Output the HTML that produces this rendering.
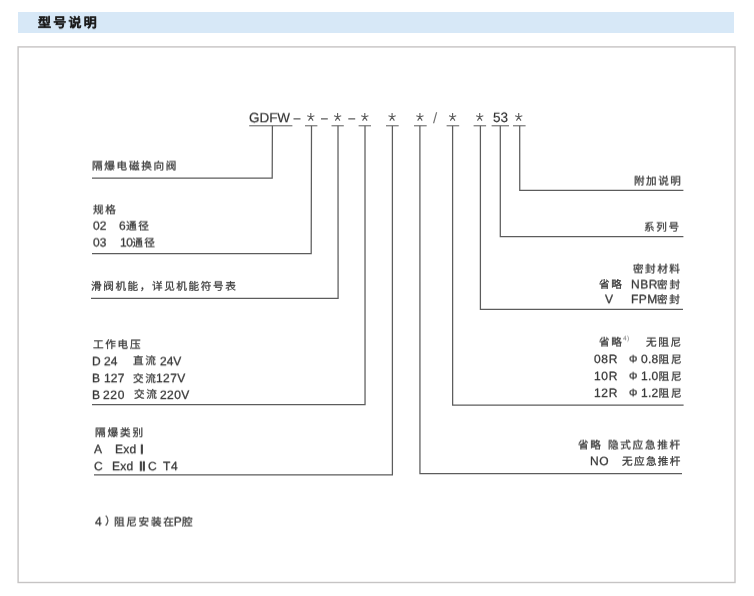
<!DOCTYPE html>
<html lang="zh-CN"><head><meta charset="utf-8"><title>型号说明</title>
<style>
html,body{margin:0;padding:0;background:#fff;}
body{width:754px;height:596px;position:relative;overflow:hidden;font-family:"Liberation Sans",sans-serif;text-rendering:geometricPrecision;}
.hdr{position:absolute;left:18px;top:12px;width:716px;height:20.5px;background:#d7e8f7;}
svg{position:absolute;left:0;top:0;}
.L{position:absolute;left:0;top:0;width:754px;height:596px;will-change:transform;}
.ttl{position:absolute;left:37.9px;top:14px;font-size:13px;line-height:17px;font-weight:bold;letter-spacing:2.25px;color:#1a1a1a;white-space:pre;-webkit-text-stroke:0.2px #1a1a1a;will-change:transform;transform:translateY(.15px) rotate(.01deg);}
.t{will-change:transform;position:absolute;font-size:10.6px;line-height:14px;letter-spacing:1.7px;color:#363636;white-space:pre;-webkit-text-stroke:0.25px #363636;}
.t .l{font-size:12px;letter-spacing:0.7px;-webkit-text-stroke:0.28px #363636;}
.t.code{font-size:13.5px;line-height:16px;color:#2e2e2e;-webkit-text-stroke:0;}
.t.code .l{font-size:13.5px;letter-spacing:-0.05px;-webkit-text-stroke:0.15px #2e2e2e;}
.t .rn{font-size:13px;font-weight:normal;letter-spacing:-0.6px;-webkit-text-stroke:0.75px #333;color:#333;}
.t.phi .l{font-size:10.5px;}
.t.slash{color:#6e6e6e;}
.t.code.slash .l{font-size:15px;-webkit-text-stroke:0;}
.t.sup{font-size:6.5px;line-height:7px;color:#777;-webkit-text-stroke:0;}
.t.sup .l{font-size:6.5px;letter-spacing:0.3px;-webkit-text-stroke:0;}
</style></head><body>
<div class="hdr"></div>
<svg width="754" height="596" viewBox="0 0 754 596" fill="none" stroke="#5c5c5c" stroke-width="1.25">
<rect x="18.1" y="46.9" width="716.9" height="535.6" stroke="#c6c4c4" stroke-width="1.4"/>
<path stroke-width="1.0" d="M249.2 125.8H292.4M305 125.8H317.4M331.5 125.8H343.8M358.6 125.8H371M386 125.8H398.7M414 125.8H426.7M446.6 125.8H459.2M473.6 125.8H486.1M491.6 125.8H509M513 125.8H525.6"/>
<path d="M272.4 125.8L272.2 178.2H92"/>
<path d="M311.5 125.8L311.2 253.6H92"/>
<path d="M338.0 125.8L338.1 298.4H91"/>
<path d="M365.0 125.8L365.05 404.7H92"/>
<path d="M392.4 125.8L392.4 474.8H94"/>
<path d="M519.7 125.8L519.75 190.3H683.4"/>
<path d="M500.3 125.8L500.3 236.5H683.4"/>
<path d="M480.4 125.8L480.4 309.4H683"/>
<path d="M452.6 125.8L452.65 405.1H683.6"/>
<path d="M419.9 125.8L419.95 473.7H682"/>
<path d="M293.5 118.9H300.5M321 118.9H327.8M348.3 118.9H355.2" stroke-width="1.3"/>
<path d="M310.8 117.0l0 -4.0M310.8 117.0l3.6 -1.15M310.8 117.0l2.25 3.6M310.8 117.0l-2.25 3.6M310.8 117.0l-3.6 -1.15M337.6 117.0l0 -4.0M337.6 117.0l3.6 -1.15M337.6 117.0l2.25 3.6M337.6 117.0l-2.25 3.6M337.6 117.0l-3.6 -1.15M364.8 117.0l0 -4.0M364.8 117.0l3.6 -1.15M364.8 117.0l2.25 3.6M364.8 117.0l-2.25 3.6M364.8 117.0l-3.6 -1.15M392.1 117.0l0 -4.0M392.1 117.0l3.6 -1.15M392.1 117.0l2.25 3.6M392.1 117.0l-2.25 3.6M392.1 117.0l-3.6 -1.15M419.9 117.0l0 -4.0M419.9 117.0l3.6 -1.15M419.9 117.0l2.25 3.6M419.9 117.0l-2.25 3.6M419.9 117.0l-3.6 -1.15M452.6 117.0l0 -4.0M452.6 117.0l3.6 -1.15M452.6 117.0l2.25 3.6M452.6 117.0l-2.25 3.6M452.6 117.0l-3.6 -1.15M479.7 117.0l0 -4.0M479.7 117.0l3.6 -1.15M479.7 117.0l2.25 3.6M479.7 117.0l-2.25 3.6M479.7 117.0l-3.6 -1.15M518.7 117.0l0 -4.0M518.7 117.0l3.6 -1.15M518.7 117.0l2.25 3.6M518.7 117.0l-2.25 3.6M518.7 117.0l-3.6 -1.15" stroke-width="1.1"/>
</svg>
<div class="L">
<div class="ttl">型号说明</div>
<div class="t code" style="left:249.0px;top:110px;transform:translateY(0.30px) rotate(.01deg);"><span class="l">GDFW</span></div>
<div class="t code" style="left:492.5px;top:109px;transform:translateY(0.90px) rotate(.01deg);"><span class="l">53</span></div>
<div class="t code slash" style="left:432.7px;top:111px;transform:translateY(0.00px) rotate(.01deg);"><span class="l">/</span></div>
<div class="t " style="left:92.0px;top:159px;transform:translateY(0.60px) rotate(.01deg);">隔爆电磁换向阀</div>
<div class="t " style="left:92.5px;top:203px;transform:translateY(0.40px) rotate(.01deg);">规格</div>
<div class="t " style="left:92.8px;top:218px;transform:translateY(0.70px) rotate(.01deg);"><span class="l" style="letter-spacing:0.1px;">02</span></div>
<div class="t " style="left:118.7px;top:218px;transform:translateY(0.70px) rotate(.01deg);letter-spacing:1.5px;"><span class="l" style="letter-spacing:0.4px;">6</span>通径</div>
<div class="t " style="left:92.8px;top:235px;transform:translateY(0.50px) rotate(.01deg);"><span class="l" style="letter-spacing:0.1px;">03</span></div>
<div class="t " style="left:119.8px;top:235px;transform:translateY(0.50px) rotate(.01deg);letter-spacing:1.3px;"><span class="l" style="letter-spacing:-0.5px;">10</span>通径</div>
<div class="t " style="left:90.8px;top:279px;transform:translateY(0.90px) rotate(.01deg);letter-spacing:1.6px;">滑阀机能，详见机能符号表</div>
<div class="t " style="left:92.5px;top:338px;transform:translateY(0.20px) rotate(.01deg);">工作电压</div>
<div class="t " style="left:91.9px;top:354px;transform:translateY(0.30px) rotate(.01deg);"><span class="l">D</span></div>
<div class="t " style="left:103.9px;top:354px;transform:translateY(0.30px) rotate(.01deg);"><span class="l" style="letter-spacing:0.1px;">24</span></div>
<div class="t " style="left:133.3px;top:354px;transform:translateY(0.30px) rotate(.01deg);">直流</div>
<div class="t " style="left:160.2px;top:354px;transform:translateY(0.30px) rotate(.01deg);"><span class="l" style="letter-spacing:0px;">24V</span></div>
<div class="t " style="left:91.9px;top:371px;transform:translateY(0.20px) rotate(.01deg);"><span class="l">B</span></div>
<div class="t " style="left:103.6px;top:371px;transform:translateY(0.20px) rotate(.01deg);"><span class="l" style="letter-spacing:0.2px;">127</span></div>
<div class="t " style="left:133.1px;top:371px;transform:translateY(0.20px) rotate(.01deg);">交流<span class="l" style="letter-spacing:0.35px;margin-left:-1.5px;">127V</span></div>
<div class="t " style="left:91.9px;top:387px;transform:translateY(0.90px) rotate(.01deg);"><span class="l">B</span></div>
<div class="t " style="left:103.0px;top:387px;transform:translateY(0.90px) rotate(.01deg);"><span class="l">220</span></div>
<div class="t " style="left:134.4px;top:387px;transform:translateY(0.90px) rotate(.01deg);">交流</div>
<div class="t " style="left:160.2px;top:387px;transform:translateY(0.90px) rotate(.01deg);"><span class="l" style="letter-spacing:0.45px;">220V</span></div>
<div class="t " style="left:94.7px;top:426px;transform:translateY(0.30px) rotate(.01deg);letter-spacing:1.9px;">隔爆类别</div>
<div class="t " style="left:94.2px;top:442px;transform:translateY(0.20px) rotate(.01deg);"><span class="l">A</span></div>
<div class="t " style="left:115.0px;top:442px;transform:translateY(0.20px) rotate(.01deg);"><span class="l" style="letter-spacing:0.2px;">Exd</span></div>
<div class="t " style="left:139.8px;top:442px;transform:translateY(0.60px) rotate(.01deg);"><b class="rn">I</b></div>
<div class="t " style="left:139.0px;top:459px;transform:translateY(0.50px) rotate(.01deg);"><b class="rn">II</b></div>
<div class="t " style="left:94.2px;top:459px;transform:translateY(0.20px) rotate(.01deg);"><span class="l">C</span></div>
<div class="t " style="left:112.3px;top:459px;transform:translateY(0.20px) rotate(.01deg);"><span class="l" style="letter-spacing:0.2px;">Exd</span></div>
<div class="t " style="left:147.8px;top:459px;transform:translateY(0.20px) rotate(.01deg);"><span class="l">C</span></div>
<div class="t " style="left:162.6px;top:459px;transform:translateY(0.20px) rotate(.01deg);"><span class="l">T4</span></div>
<div class="t " style="left:94.7px;top:514px;transform:translateY(0.60px) rotate(.01deg);"><span class="l">4</span></div>
<div class="t " style="left:104.8px;top:514px;transform:translateY(0.60px) rotate(.01deg);">）</div>
<div class="t " style="left:114.0px;top:514px;transform:translateY(0.60px) rotate(.01deg);">阻尼安装在<span class="l" style="letter-spacing:0.3px;margin-left:-1.7px;">P</span>腔</div>
<div class="t " style="right:72.0px;top:174px;transform:translateY(0.60px) rotate(.01deg);letter-spacing:1.5px;">附加说明</div>
<div class="t " style="right:73.5px;top:220px;transform:translateY(0.70px) rotate(.01deg);">系列号</div>
<div class="t " style="right:72.3px;top:262px;transform:translateY(0.60px) rotate(.01deg);letter-spacing:1.5px;">密封材料</div>
<div class="t " style="right:72.2px;top:277px;transform:translateY(0.40px) rotate(.01deg);"><span class="l" style="letter-spacing:0.55px;margin-right:-0.9px;">NBR</span>密封</div>
<div class="t " style="right:130.9px;top:278px;transform:translateY(0.00px) rotate(.01deg);">省略</div>
<div class="t " style="right:72.2px;top:292px;transform:translateY(0.20px) rotate(.01deg);"><span class="l" style="letter-spacing:0.5px;margin-right:-0.9px;">FPM</span>密封</div>
<div class="t " style="right:139.9px;top:292px;transform:translateY(0.20px) rotate(.01deg);"><span class="l">V</span></div>
<div class="t " style="right:70.7px;top:335px;transform:translateY(0.90px) rotate(.01deg);">无阻尼</div>
<div class="t " style="right:130.7px;top:335px;transform:translateY(0.70px) rotate(.01deg);">省略</div>
<div class="t sup" style="left:622.6px;top:335px;transform:translateY(0.40px) rotate(.01deg);"><span class="l">4)</span></div>
<div class="t " style="right:70.6px;top:352px;transform:translateY(0.10px) rotate(.01deg);"><span class="l" style="letter-spacing:0.3px;">0.8</span>阻尼</div>
<div class="t phi" style="right:116.0px;top:352px;transform:translateY(0.50px) rotate(.01deg);"><span class="l">Φ</span></div>
<div class="t " style="right:136.2px;top:352px;transform:translateY(0.10px) rotate(.01deg);"><span class="l">08R</span></div>
<div class="t " style="right:70.6px;top:369px;transform:translateY(0.10px) rotate(.01deg);"><span class="l" style="letter-spacing:0.3px;">1.0</span>阻尼</div>
<div class="t phi" style="right:116.0px;top:369px;transform:translateY(0.50px) rotate(.01deg);"><span class="l">Φ</span></div>
<div class="t " style="right:136.2px;top:369px;transform:translateY(0.10px) rotate(.01deg);"><span class="l">10R</span></div>
<div class="t " style="right:70.6px;top:385px;transform:translateY(0.90px) rotate(.01deg);"><span class="l" style="letter-spacing:0.3px;">1.2</span>阻尼</div>
<div class="t phi" style="right:116.0px;top:386px;transform:translateY(0.30px) rotate(.01deg);"><span class="l">Φ</span></div>
<div class="t " style="right:136.2px;top:385px;transform:translateY(0.90px) rotate(.01deg);"><span class="l">12R</span></div>
<div class="t " style="right:72.0px;top:438px;transform:translateY(0.60px) rotate(.01deg);">隐式应急推杆</div>
<div class="t " style="right:151.0px;top:438px;transform:translateY(0.60px) rotate(.01deg);">省略</div>
<div class="t " style="right:72.2px;top:455px;transform:translateY(0.00px) rotate(.01deg);letter-spacing:1.35px;">无应急推杆</div>
<div class="t " style="right:145.0px;top:454px;transform:translateY(0.10px) rotate(.01deg);"><span class="l">NO</span></div>
</div>
</body></html>
